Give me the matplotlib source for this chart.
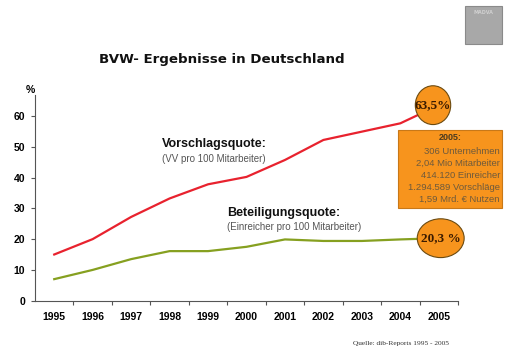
import matplotlib.pyplot as plt
from matplotlib.patches import Ellipse, Rectangle

years = ['1995', '1996', '1997', '1998', '1999', '2000',
         '2001', '2002', '2003', '2004', '2005']
vorschlag = [15.0, 20.0, 27.2, 33.2, 37.8, 40.2, 45.7, 52.2, 54.9, 57.6, 63.5]
beteiligung = [7.0, 10.0, 13.5, 16.1, 16.1, 17.5, 19.9, 19.4, 19.4, 19.9, 20.3]
y_ticks = [0, 10, 20, 30, 40, 50, 60]
info_lines = ['306 Unternehmen', '2,04 Mio Mitarbeiter', '414.120 Einreicher',
              '1.294.589 Vorschläge', '1,59 Mrd. € Nutzen']

RED = '#e8222e'
GREEN = '#86a020'
ORANGE = '#f7941d'
SANS = ['Liberation Sans', 'DejaVu Sans']

fig = plt.figure(figsize=(5.10, 3.59), dpi=100)
ax = fig.add_axes([35 / 510, 58.3 / 359, 423 / 510, 205.7 / 359])

x = list(range(len(years)))
ax.plot(x, vorschlag, color=RED, lw=1.6, zorder=3)
ax.plot(x, beteiligung, color=GREEN, lw=1.6, zorder=3)

ax.set_xlim(-0.5, len(years) - 0.5)
ax.set_ylim(0, 66.8)
ax.set_yticks(y_ticks)
ax.set_yticklabels([str(v) for v in y_ticks], fontsize=7.5, fontweight='bold',
                   family=SANS)
ax.set_xticks([i + 0.5 for i in x])
ax.set_xticklabels([])
ax.set_xticks(x, minor=True)
ax.set_xticklabels(years, minor=True, fontsize=7.5, fontweight='bold', family=SANS)
ax.tick_params(axis='x', which='major', direction='out', length=3, color='#555555')
ax.tick_params(axis='x', which='minor', length=0, pad=8)
ax.tick_params(axis='y', direction='out', length=3, color='#555555', pad=4)
for s in ['top', 'right']:
    ax.spines[s].set_visible(False)
for s in ['left', 'bottom']:
    ax.spines[s].set_color('#555555')
    ax.spines[s].set_linewidth(0.8)

# ellipses with end values
for xc, val, label, w in [(9.85, vorschlag[-1], '63,5%', 0.92),
                          (10.05, beteiligung[-1], '20,3 %', 1.22)]:
    e = Ellipse((xc, val), w, 12.6, facecolor=ORANGE, edgecolor='#6b4a10',
                lw=0.8, zorder=5, clip_on=False)
    ax.add_patch(e)
    ax.text(xc, val, label, ha='center', va='center', fontsize=9.5,
            fontweight='bold', family=['Liberation Serif'], color='#3a1a00',
            zorder=6, clip_on=False)

# series labels
ax.text(2.8, 50.9, 'Vorschlagsquote:', fontsize=9, fontweight='bold',
        family=SANS, color='#111111', va='center')
ax.text(2.8, 45.9, '(VV pro 100 Mitarbeiter)', fontsize=7, family=SANS,
        color='#555555', va='center')
ax.text(4.5, 28.5, 'Beteiligungsquote:', fontsize=9, fontweight='bold',
        family=SANS, color='#111111', va='center')
ax.text(4.5, 24.0, '(Einreicher pro 100 Mitarbeiter)', fontsize=7, family=SANS,
        color='#555555', va='center')

ax.text(-0.5, 68.5, '%', fontsize=7.5, fontweight='bold', family=SANS,
        ha='right', va='center', clip_on=False)

# info box
fig.patches.append(Rectangle((398 / 510, 1 - 208 / 359), 104 / 510, 78 / 359,
                             transform=fig.transFigure, facecolor=ORANGE,
                             edgecolor='#c87818', lw=0.8))
fig.text(450 / 510, 1 - 137 / 359, '2005:', fontsize=6.5, fontweight='bold',
         family=SANS, color='#4a3a20', ha='center', va='center')
for i, line in enumerate(info_lines):
    fig.text(500 / 510, 1 - (151 + 12 * i) / 359, line, fontsize=6.8,
             family=SANS, color='#6e5a3c', ha='right', va='center')

# title
fig.text(222 / 510, 1 - 60 / 359, 'BVW- Ergebnisse in Deutschland', fontsize=9.6,
         fontweight='bold', ha='center', va='center', color='#111111')

# source
fig.text(353 / 510, 1 - 343 / 359, 'Quelle: dib-Reports 1995 - 2005', fontsize=5.3,
         family=['Liberation Serif'], color='#333333', va='center')

# logo
fig.patches.append(Rectangle((465 / 510, 1 - 44 / 359), 37 / 510, 38 / 359,
                             transform=fig.transFigure, facecolor='#a8a8a8',
                             edgecolor='#8a8a8a', lw=0.8))
fig.text(483 / 510, 1 - 12 / 359, 'MADVA', fontsize=3.5, color='#d0d0d0',
         ha='center', va='center', fontweight='bold')

fig.savefig('out.png', dpi=100)
